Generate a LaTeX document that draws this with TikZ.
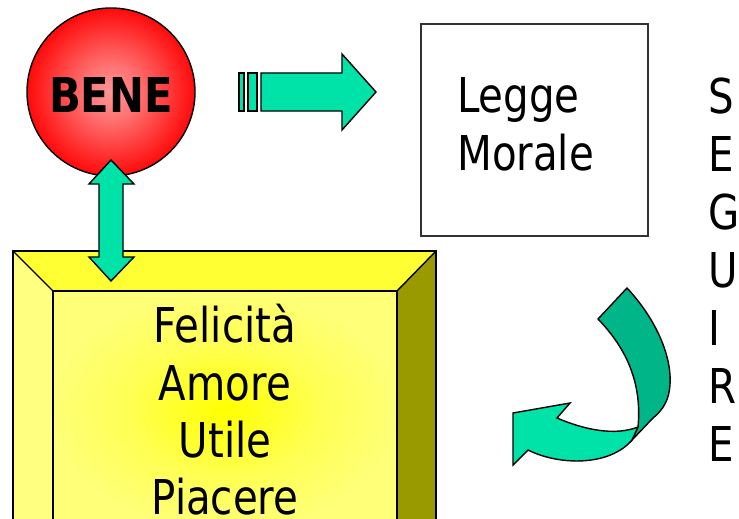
\documentclass[tikz,border=0pt]{standalone}
\usepackage{fontspec}
\setmainfont{DejaVu Sans}[FakeStretch=0.84]
\newfontfamily\benefont{DejaVu Sans}[FakeStretch=0.87]
\definecolor{arrowgreen}{RGB}{0,227,168}
\definecolor{arrowdark}{RGB}{0,182,136}
\definecolor{benered}{RGB}{255,10,10}
\definecolor{benepink}{RGB}{255,150,150}
\definecolor{bevtop}{RGB}{255,255,51}
\definecolor{bevleft}{RGB}{255,255,128}
\definecolor{bevright}{RGB}{153,153,0}
\definecolor{facecenter}{RGB}{255,255,0}
\definecolor{faceouter}{RGB}{255,255,120}
\definecolor{framegray}{RGB}{50,50,50}
\pgfdeclareradialshading{beneshade}{\pgfpoint{0bp}{0bp}}{color(0bp)=(benepink); color(8bp)=(benepink!75!benered); color(25bp)=(benered); color(50bp)=(benered)}
\pgfdeclareradialshading{faceshade}{\pgfpoint{0bp}{0bp}}{color(0bp)=(facecenter); color(14bp)=(faceouter!70!facecenter); color(25bp)=(faceouter); color(50bp)=(faceouter)}
\begin{document}
\begin{tikzpicture}[x=1pt,y=-1pt,
  outl/.style={draw=black, line width=1.4pt, line join=miter},
  txt/.style={font=\fontsize{48}{58}\selectfont, inner sep=0pt, text=black},
  blockarrow/.style={outl, fill=arrowgreen}]
\useasboundingbox (0,0) rectangle (739,519);
\clip (0,0) rectangle (739,519);
% bevelled yellow box
\fill[bevtop] (13,251) -- (436,251) -- (397,291) -- (53,291) -- cycle;
\fill[bevleft] (13,251) -- (53,291) -- (53,560) -- (13,560) -- cycle;
\fill[bevright] (436,251) -- (436,560) -- (397,560) -- (397,291) -- cycle;
\shade[shading=faceshade] (53,291) rectangle (397,529);
\draw[outl] (13,560) -- (13,251) -- (436,251) -- (436,560);
\draw[outl] (53,560) -- (53,291) -- (397,291) -- (397,560);
\draw[outl] (13,251) -- (53,291);
\draw[outl] (436,251) -- (397,291);
\node[txt, anchor=base] (fel) at (225,342) {Felicità};
\node[txt, anchor=base] (amo) at (225,400) {Amore};
\node[txt, anchor=base] (uti) at (225,457) {Utile};
\node[txt, anchor=base] (pia) at (225,514) {Piacere};
% BENE circle
\node[circle, minimum size=168pt, inner sep=0pt, outl, shading=beneshade] (bene) at (111,92) {};
\node[txt, font=\benefont\bfseries\fontsize{48}{58}\selectfont, anchor=base] (benetxt) at (111,112) {BENE};
% Legge Morale box
\node[draw=framegray, line width=1.4pt, minimum width=227pt, minimum height=212pt, inner sep=0pt] (legge) at (534.5,130) {};
\node[txt, anchor=base west] (leg1) at (457,112) {Legge};
\node[txt, anchor=base west] (leg2) at (457,170) {Morale};
% SEGUIRE
\foreach \l [count=\i from 0] in {S,E,G,U,I,R,E}{
  \node[txt, anchor=base west] (seg\i) at (708,{113+58*\i}) {\l};
}
% right block arrow
\draw[blockarrow] (239,73) rectangle (244,111);
\draw[blockarrow] (248,73) rectangle (257,111);
\draw[blockarrow] (261,73) -- (342,73) -- (342,54) -- (376,92) -- (342,130) -- (342,111) -- (261,111) -- cycle;
% vertical double arrow
\draw[blockarrow] (111,160) -- (134,184) -- (123,184) -- (123,257) -- (134,257) -- (111,281) -- (89,257) -- (99,257) -- (99,184) -- (89,184) -- cycle;
% curved arrow
\draw[outl, fill=arrowdark] (598,319) -- (627,288) .. controls (655,318) and (672,355) .. (670,385) .. controls (669,400) and (663,410) .. (653,418) -- (632,440) -- (638,427) .. controls (642,385) and (628,350) .. (598,319) -- cycle;
\draw[outl, fill=arrowgreen] (638,427) .. controls (615,436) and (585,430) .. (557,418) -- (570,403) -- (513,413) -- (513,465) -- (528,450) .. controls (560,466) and (610,466) .. (632,440) -- cycle;
\end{tikzpicture}
\end{document}
